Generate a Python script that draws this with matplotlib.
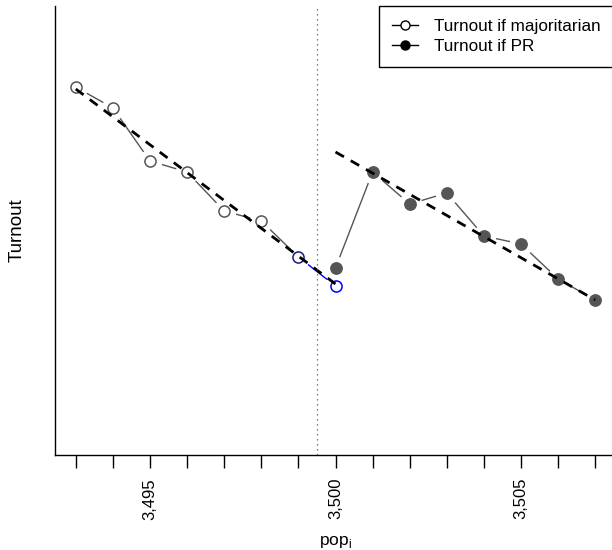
import matplotlib

matplotlib.use("Agg")
import matplotlib.pyplot as plt
from matplotlib.lines import Line2D

plt.rcParams["font.family"] = ["Liberation Sans", "DejaVu Sans"]
plt.rcParams["mathtext.fontset"] = "custom"
plt.rcParams["mathtext.rm"] = "Liberation Sans"

# data (turnout in arbitrary units, no y ticks shown)
pop_maj = [3493, 3494, 3495, 3496, 3497, 3498, 3499, 3500]
turnout_maj = [76.8, 74.7, 69.4, 68.3, 64.4, 63.4, 59.8, 56.9]
pop_pr = [3500, 3501, 3502, 3503, 3504, 3505, 3506, 3507]
turnout_pr = [58.7, 68.3, 65.1, 66.2, 61.9, 61.1, 57.6, 55.5]
fit_maj_x = [3493, 3500]
fit_maj_y = [76.6, 57.1]
fit_pr_x = [3500, 3507]
fit_pr_y = [70.3, 55.5]
cutoff = 3499.5
tick_pos = list(range(3493, 3508))
tick_text = {3495: "3,495", 3500: "3,500", 3505: "3,505"}

GRAY = "#555555"
maj_edges = [GRAY] * 6 + ["#1a1a8c", "#0000ff"]

fig = plt.figure(figsize=(6.12, 5.5), dpi=100)
ax = fig.add_axes([55 / 612, 95 / 550, 561 / 612, 449 / 550])

# connecting lines (type="b" look: gaps made with white halos)
ax.plot(pop_maj[:7], turnout_maj[:7], color=GRAY, lw=1, zorder=1)
ax.plot(pop_maj[6:], turnout_maj[6:], color="#0000ff", lw=1, zorder=1)
ax.plot(pop_pr, turnout_pr, color=GRAY, lw=1, zorder=1)
ax.plot(pop_maj + pop_pr, turnout_maj + turnout_pr, ls="none", marker="o",
        ms=17, mfc="white", mec="none", zorder=2)

for x, y, ec in zip(pop_maj, turnout_maj, maj_edges):
    ax.plot([x], [y], ls="none", marker="o", ms=8, mfc="white", mec=ec,
            mew=1.1, zorder=3)
ax.plot(pop_pr, turnout_pr, ls="none", marker="o", ms=8.2, mfc=GRAY,
        mec=GRAY, zorder=3)

ax.plot(fit_maj_x, fit_maj_y, color="black", lw=2, ls=(0, (3.5, 2.8)), zorder=4)
ax.plot(fit_pr_x, fit_pr_y, color="black", lw=2, ls=(0, (3.5, 2.8)), zorder=4)

ax.axvline(cutoff, color=GRAY, lw=0.9, ls=(0, (1, 3)), zorder=5)

ax.set_xlim(3492.44, 3507.56)
ax.set_ylim(40, 84.9)
ax.set_xticks(tick_pos)
ax.set_xticklabels([tick_text.get(t, "") for t in tick_pos], rotation=90,
                   fontsize=12)
ax.tick_params(axis="x", length=9.5, width=1, pad=7)
ax.set_yticks([])
for side in ("top", "right"):
    ax.spines[side].set_visible(False)
for side in ("left", "bottom"):
    ax.spines[side].set_linewidth(1)

ax.set_xlabel(r"pop$_{\mathrm{i}}$", fontsize=12.5)
ax.xaxis.set_label_coords(0.5, -0.175)
ax.set_ylabel("Turnout", fontsize=13.5)
ax.yaxis.set_label_coords(-0.052, 0.5)

handles = [
    Line2D([], [], color="black", lw=1, marker="o", ms=6.5, mfc="white",
           mec="black"),
    Line2D([], [], color="black", lw=1, marker="o", ms=6.5, mfc="black",
           mec="black"),
]
leg = ax.legend(handles, ["Turnout if majoritarian", "Turnout if PR"],
                loc="upper right", bbox_to_anchor=((613.5 - 55) / 561, 1),
                borderaxespad=0, fontsize=12.3, fancybox=False,
                edgecolor="black", framealpha=1, handlelength=1.5,
                handletextpad=0.95, labelspacing=0.32, borderpad=0.75)
leg.get_frame().set_linewidth(1)

fig.savefig("out.png", dpi=100)
